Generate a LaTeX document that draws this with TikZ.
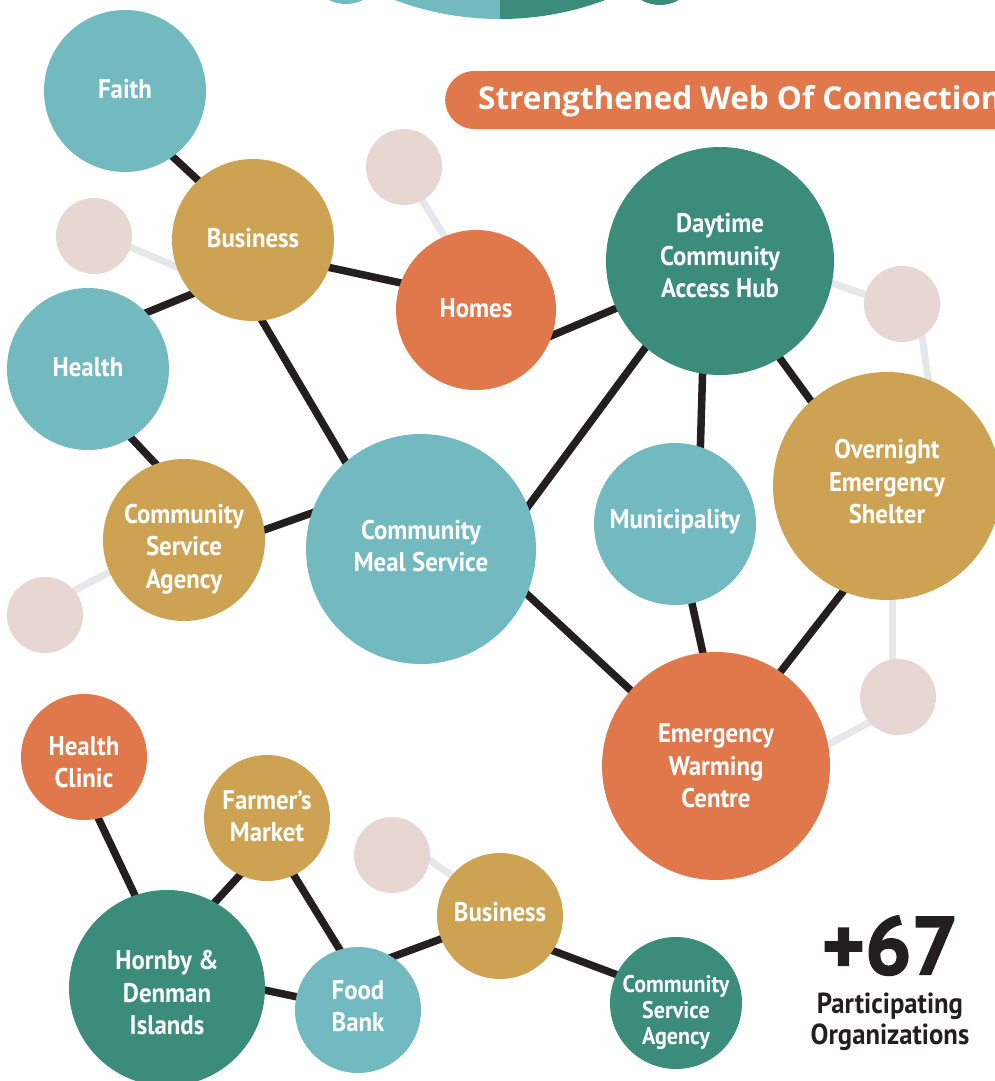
\documentclass[tikz,border=0pt]{standalone}
\usepackage{fontspec}
\setmainfont{PT Sans}[FakeStretch=0.92]
\newfontfamily\titlefont{Open Sans}
\newfontfamily\numfont{PT Sans}[FakeStretch=1.0,FakeBold=2]
\usetikzlibrary{calc,backgrounds}
\definecolor{lteal}{HTML}{72BAC0}
\definecolor{dteal}{HTML}{3C8C7C}
\definecolor{gold}{HTML}{CDA253}
\definecolor{orng}{HTML}{E0784C}
\definecolor{pinkc}{HTML}{E8D6D3}
\definecolor{lgray}{HTML}{E6E7E8}
\definecolor{ink}{HTML}{231F20}
\tikzset{
  bub/.style={circle, draw=none, inner sep=0pt, minimum size=2*#1},
  lbl/.style={text=white, font=\bfseries\fontsize{27}{32.5}\selectfont, align=center, inner sep=0pt},
  lblsmall/.style={text=white, font=\bfseries\fontsize{24}{26}\selectfont, align=center, inner sep=0pt},
  blk/.style={draw=ink, line width=7.5pt},
  gry/.style={draw=lgray, line width=7pt}
}
\begin{document}
\begin{tikzpicture}[x=1pt,y=-1pt]
\useasboundingbox (0,0) rectangle (995,1081);
% top partial shapes
\begin{scope}
  \clip (150,-700) rectangle (500,60);
  \fill[lteal] (500,-281) circle[radius=300];
\end{scope}
\begin{scope}
  \clip (500,-700) rectangle (850,60);
  \fill[dteal] (500,-281) circle[radius=300];
\end{scope}
\fill[lteal] (346,-34) circle[radius=38];
\fill[dteal] (660,-33) circle[radius=38];
% title banner
\node[rectangle, fill=orng, rounded corners=29pt, minimum width=620pt, minimum height=58pt, anchor=west, inner sep=0pt] (banner) at (445,100) {};
\node[anchor=base west, inner sep=0pt, text=white, font=\titlefont\bfseries\fontsize{31.5}{34}\selectfont] (title) at (478,109) {Strengthened Web Of Connection};
% bubbles
\node[bub=81, fill=lteal] (faith) at (125,91) {};
\node[bub=81, fill=gold] (bus) at (253,240) {};
\node[bub=38, fill=pinkc] (pA) at (94,236) {};
\node[bub=38, fill=pinkc] (pB) at (404,167) {};
\node[bub=81, fill=lteal] (health) at (88,369) {};
\node[bub=80, fill=orng] (homes) at (476,310) {};
\node[bub=114, fill=dteal] (day) at (720,261) {};
\node[bub=38, fill=pinkc] (pC) at (902,304) {};
\node[bub=114, fill=gold] (on) at (887,486) {};
\node[bub=81, fill=lteal] (muni) at (675,524) {};
\node[bub=115, fill=lteal] (cms) at (421,549) {};
\node[bub=81, fill=gold] (csa) at (184,540) {};
\node[bub=38, fill=pinkc] (pLL) at (45,615) {};
\node[bub=38, fill=pinkc] (pD) at (898,697) {};
\node[bub=114, fill=orng] (ewc) at (716,766) {};
\node[bub=63, fill=orng] (hc) at (84,757) {};
\node[bub=63, fill=gold] (fm) at (267,818) {};
\node[bub=38, fill=pinkc] (pE) at (392,855) {};
\node[bub=63, fill=gold] (busl) at (500,916) {};
\node[bub=98, fill=dteal] (horn) at (167,988) {};
\node[bub=63, fill=lteal] (fb) at (358,1010) {};
\node[bub=66, fill=dteal] (csal) at (676,1003) {};
% connectors behind
\begin{scope}[on background layer]
  \draw[gry] ($(pA)+(22,5)$) -- ($(bus)+(-62,33)$);
  \draw[gry] ($(pB)+(10,20)$) -- ($(homes)+(-23,-60)$);
  \draw[gry] ($(day)+(98,17)$) -- ($(pC)+(-22,-4)$);
  \draw[gry] ($(pC)+(18,18)$) -- ($(on)+(43,-94)$);
  \draw[gry] ($(on)+(5,99)$) -- ($(pD)+(-6,-25)$);
  \draw[gry] ($(pD)+(-15,18)$) -- ($(ewc)+(100,-15)$);
  \draw[gry] ($(pLL)+(15,-17)$) -- ($(csa)+(-63,26)$);
  \draw[gry] ($(pE)+(26,-3)$) -- ($(busl)+(-45,-38)$);
  \draw[blk] ($(faith)+(33,52)$) -- ($(bus)+(-38,-44)$);
  \draw[blk] ($(health)+(43,-50)$) -- ($(bus)+(-44,47)$);
  \draw[blk] ($(bus)+(60,24)$) -- ($(homes)+(-61,-24)$);
  \draw[blk] ($(bus)+(1,67)$) -- ($(cms)+(-66,-71)$);
  \draw[blk] ($(health)+(32,57)$) -- ($(csa)+(-17,-64)$);
  \draw[blk] ($(csa)+(66,-5)$) -- ($(cms)+(-95,-41)$);
  \draw[blk] ($(homes)+(63,31)$) -- ($(day)+(-89,41)$);
  \draw[blk] ($(day)+(-66,75)$) -- ($(cms)+(97,-29)$);
  \draw[blk] ($(day)+(-17,97)$) -- ($(muni)+(25,-64)$);
  \draw[blk] ($(day)+(51,85)$) -- ($(on)+(-68,-74)$);
  \draw[blk] ($(muni)+(14,66)$) -- ($(ewc)+(-10,-99)$);
  \draw[blk] ($(cms)+(95,35)$) -- ($(ewc)+(-77,-68)$);
  \draw[blk] ($(on)+(-35,94)$) -- ($(ewc)+(55,-82)$);
  \draw[blk] ($(hc)+(8,48)$) -- ($(horn)+(-26,-80)$);
  \draw[blk] ($(fm)+(-17,46)$) -- ($(horn)+(38,-75)$);
  \draw[blk] ($(fm)+(20,46)$) -- ($(fb)+(-10,-47)$);
  \draw[blk] ($(horn)+(83,-1)$) -- ($(fb)+(-46,-10)$);
  \draw[blk] ($(fb)+(18,-47)$) -- ($(busl)+(-43,17)$);
  \draw[blk] ($(busl)+(43,31)$) -- ($(csal)+(-45,-23)$);
\end{scope}
% labels
\node[lbl] (l-faith) at ($(faith)+(0,-2)$) {Faith};
\node[lbl] (l-bus) at ($(bus)+(0,-2)$) {Business};
\node[lbl] (l-health) at ($(health)+(0,-2)$) {Health};
\node[lbl] (l-homes) at ($(homes)+(0,-2)$) {Homes};
\node[lbl] (l-day) at ($(day)+(0,-5)$) {Daytime\\Community\\Access Hub};
\node[lbl] (l-on) at ($(on)+(0,-4)$) {Overnight\\Emergency\\Shelter};
\node[lbl] (l-muni) at ($(muni)+(0,-2)$) {Municipality};
\node[lbl] (l-cms) at ($(cms)+(0,-3)$) {Community\\Meal Service};
\node[lbl] (l-csa) at ($(csa)+(0,9)$) {Community\\Service\\Agency};
\node[lbl] (l-ewc) at ($(ewc)+(0,0)$) {Emergency\\Warming\\Centre};
\node[lbl] (l-hc) at ($(hc)+(0,5)$) {Health\\Clinic};
\node[lbl] (l-fm) at ($(fm)+(0,-2)$) {Farmer’s\\Market};
\node[lbl] (l-horn) at ($(horn)+(0,5)$) {Hornby \&\\Denman\\Islands};
\node[lbl] (l-fb) at ($(fb)+(0,-4)$) {Food\\Bank};
\node[lbl] (l-busl) at ($(busl)+(0,-4)$) {Business};
\node[lblsmall] (l-csal) at ($(csal)+(0,9)$) {Community\\Service\\Agency};
% count
\node[text=ink, inner sep=0pt, text depth=0pt, font=\numfont\bfseries\fontsize{82}{82}\selectfont] (count) at (890,945) {+67};
\node[text=ink, inner sep=0pt, align=center, font=\bfseries\fontsize{29}{31}\selectfont] (orgs) at (890,1022) {Participating\\Organizations};
\end{tikzpicture}
\end{document}
